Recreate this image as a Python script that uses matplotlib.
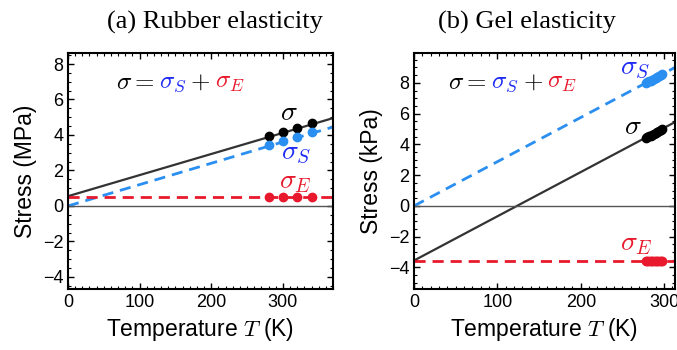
import matplotlib
matplotlib.use('Agg')
import matplotlib.pyplot as plt
from matplotlib.ticker import MultipleLocator

plt.rcParams['font.family'] = 'Liberation Sans'
plt.rcParams['mathtext.fontset'] = 'cm'

# (a) Rubber elasticity: fitted lines (end points) and measured points
T_line_a = [0, 370]
sigma_line_a = [0.55, 4.95]
sigmaS_line_a = [0.0, 4.45]
sigmaE_line_a = [0.5, 0.5]
T_pts_a = [280, 300, 320, 340]
sigma_pts_a = [3.92, 4.15, 4.4, 4.65]
sigmaS_pts_a = [3.45, 3.65, 3.9, 4.15]
sigmaE_pts_a = [0.5, 0.5, 0.5, 0.5]

# (b) Gel elasticity
T_line_b = [0, 313]
sigma_line_b = [-3.55, 5.45]
sigmaS_line_b = [0.0, 9.0]
sigmaE_line_b = [-3.55, -3.55]
T_pts_b = [278, 280, 282, 284, 286, 288, 290, 292, 294, 296, 298]
sigma_pts_b = [4.4, 4.46, 4.52, 4.57, 4.63, 4.69, 4.75, 4.81, 4.86, 4.92, 4.98]
sigmaS_pts_b = [7.98, 8.04, 8.1, 8.15, 8.21, 8.27, 8.33, 8.39, 8.44, 8.5, 8.56]
sigmaE_pts_b = [-3.55] * 11

BLACK = '#333333'
BLUE = '#2a8ff0'
RED = '#e8192c'
LBLUE = '#1f2cf5'

fig = plt.figure(figsize=(6.77, 3.5), dpi=100)
ax1 = fig.add_axes([68/677, 61/350, 265/677, 236/350])
ax2 = fig.add_axes([414/677, 61/350, 261/677, 236/350])


def style(ax):
    for s in ax.spines.values():
        s.set_linewidth(1.5)
    ax.tick_params(which='both', direction='in', top=True, right=True, labelsize=13)
    ax.tick_params(which='major', length=4, width=1)
    ax.tick_params(which='minor', length=2, width=0.8)
    ax.xaxis.set_major_locator(MultipleLocator(100))
    ax.xaxis.set_minor_locator(MultipleLocator(10))
    ax.yaxis.set_major_locator(MultipleLocator(2))
    ax.yaxis.set_minor_locator(MultipleLocator(0.5))
    ax.axhline(0, color='#555555', lw=1)
    ax.set_xlabel('Temperature $T$ (K)', fontsize=16.5)


# panel a
ax1.plot(T_line_a, sigma_line_a, color=BLACK, lw=1.6)
ax1.plot(T_line_a, sigmaS_line_a, color=BLUE, lw=2, dashes=(4, 2.5))
ax1.plot(T_line_a, sigmaE_line_a, color=RED, lw=2, dashes=(4, 2.5))
ax1.plot(T_pts_a, sigma_pts_a, 'o', color='black', ms=6)
ax1.plot(T_pts_a, sigmaS_pts_a, 'o', color=BLUE, ms=6)
ax1.plot(T_pts_a, sigmaE_pts_a, 'o', color=RED, ms=6)
ax1.set_xlim(0, 370)
ax1.set_ylim(-4.68, 8.62)
style(ax1)
ax1.set_ylabel('Stress (MPa)', fontsize=16.5)
ax1.text(308, 5.25, r'$\sigma$', color='black', fontsize=20, ha='center', va='center')
ax1.text(318, 3.0, r'$\sigma_S$', color=LBLUE, fontsize=20, ha='center', va='center')
ax1.text(318, 1.35, r'$\sigma_E$', color=RED, fontsize=20, ha='center', va='center')

# panel b
ax2.plot(T_line_b, sigma_line_b, color=BLACK, lw=1.6)
ax2.plot(T_line_b, sigmaS_line_b, color=BLUE, lw=2, dashes=(4, 2.5))
ax2.plot(T_line_b, sigmaE_line_b, color=RED, lw=2, dashes=(4, 2.5))
ax2.plot(T_pts_b, sigma_pts_b, 'o', color='black', ms=6)
ax2.plot(T_pts_b, sigmaS_pts_b, 'o', color=BLUE, ms=6)
ax2.plot(T_pts_b, sigmaE_pts_b, 'o', color=RED, ms=6)
ax2.set_xlim(0, 313)
ax2.set_ylim(-5.4, 9.94)
style(ax2)
ax2.set_ylabel('Stress (kPa)', fontsize=16.5)
ax2.text(265, 8.95, r'$\sigma_S$', color=LBLUE, fontsize=20, ha='center', va='center')
ax2.text(263, 5.1, r'$\sigma$', color='black', fontsize=20, ha='center', va='center')
ax2.text(267, -2.5, r'$\sigma_E$', color=RED, fontsize=20, ha='center', va='center')

# equation annotations
for ax, x0 in [(ax1, 0.18), (ax2, 0.132)]:
    kw = dict(transform=ax.transAxes, fontsize=18, va='center')
    t = ax.text(x0, 0.877, r'$\sigma = $', color='black', **kw)
    t = ax.annotate(r'$\sigma_S$', xycoords=t, xy=(1, 0.5), va='center', color=LBLUE, fontsize=18,
                    xytext=(3, 0), textcoords='offset points')
    t = ax.annotate(r'$+$', xycoords=t, xy=(1, 0.5), va='center', color='black', fontsize=18,
                    xytext=(3, 0), textcoords='offset points')
    ax.annotate(r'$\sigma_E$', xycoords=t, xy=(1, 0.5), va='center', color=RED, fontsize=18,
                xytext=(3, 0), textcoords='offset points')

fig.text(215/677, 0.935, '(a) Rubber elasticity', family='Liberation Serif', fontsize=19, ha='center', va='center')
fig.text(527/677, 0.935, '(b) Gel elasticity', family='Liberation Serif', fontsize=19, ha='center', va='center')

fig.savefig('out.png', dpi=100)
